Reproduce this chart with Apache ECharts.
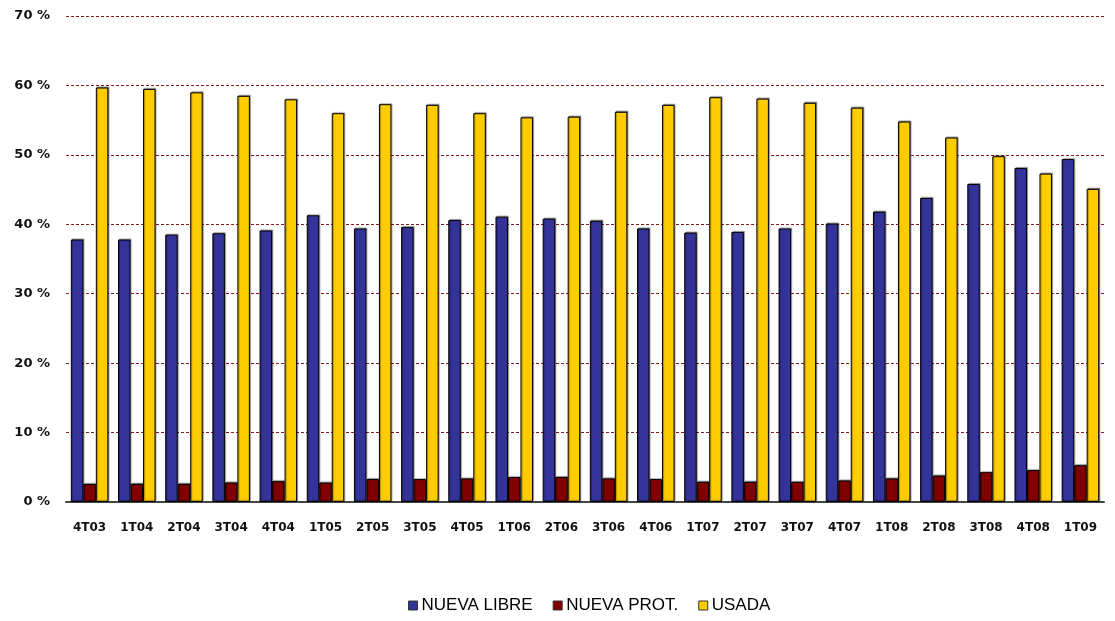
<!DOCTYPE html>
<html>
<head>
<meta charset="utf-8">
<script src="https://cdn.jsdelivr.net/npm/echarts@6/dist/echarts.min.js"></script>
<style>
  html, body { margin: 0; padding: 0; background: #fff; }
  #chart { width: 1115px; height: 621px; }
</style>
</head>
<body>
<div id="chart"></div>
<script>
var categories = ['4T03', '1T04', '2T04', '3T04', '4T04', '1T05', '2T05', '3T05', '4T05', '1T06', '2T06',
  '3T06', '4T06', '1T07', '2T07', '3T07', '4T07', '1T08', '2T08', '3T08', '4T08', '1T09']
var nuevaLibre = [37.8, 37.8, 38.5, 38.7, 39.1, 41.3, 39.4, 39.6, 40.6, 41.1, 40.8,
  40.5, 39.4, 38.8, 38.9, 39.4, 40.1, 41.8, 43.8, 45.8, 48.1, 49.4]
var nuevaProt = [2.6, 2.6, 2.6, 2.8, 3.0, 2.8, 3.3, 3.3, 3.4, 3.6, 3.6,
  3.4, 3.3, 2.9, 2.9, 2.9, 3.1, 3.4, 3.8, 4.3, 4.6, 5.3]
var usada = [59.7, 59.5, 59.0, 58.5, 58.0, 56.0, 57.3, 57.2, 56.0, 55.4, 55.5,
  56.2, 57.2, 58.3, 58.1, 57.5, 56.8, 54.8, 52.5, 49.8, 47.3, 45.1]

var chart = echarts.init(document.getElementById('chart'))

function barSeries(name, data, color) {
  return {
    name: name,
    type: 'bar',
    data: data,
    barWidth: 12.5,
    barGap: '0%',
    itemStyle: {
      color: color,
      borderColor: '#000',
      borderWidth: 1,
      shadowColor: 'rgba(0,0,0,0.35)',
      shadowOffsetX: 1,
      shadowOffsetY: -1,
      shadowBlur: 1
    }
  }
}

var option = {
  animation: false,
  backgroundColor: '#fff',
  textStyle: { fontFamily: 'DejaVu Sans' },
  grid: { left: 66, right: 11, top: 16, bottom: 119 },
  legend: {
    bottom: 2,
    left: 403,
    icon: 'rect',
    itemWidth: 9,
    itemHeight: 9,
    itemGap: 20,
    itemStyle: { borderColor: '#333', borderWidth: 1 },
    textStyle: { color: '#000', fontSize: 17, fontFamily: 'Liberation Sans', padding: [0, 0, 0, -1] },
    data: ['NUEVA LIBRE', 'NUEVA PROT.', 'USADA']
  },
  xAxis: {
    type: 'category',
    data: categories,
    axisLine: { lineStyle: { color: '#444', width: 2 } },
    axisTick: { show: false },
    axisLabel: {
      margin: 20,
      interval: 0,
      color: '#111',
      fontWeight: 'bold',
      fontSize: 12
    }
  },
  yAxis: {
    type: 'value',
    min: 0,
    max: 70,
    interval: 10,
    axisLine: { show: false },
    axisTick: { show: false },
    axisLabel: {
      margin: 16,
      color: '#111',
      fontWeight: 'bold',
      fontSize: 13,
      formatter: '{value} %'
    },
    splitLine: {
      lineStyle: { color: '#8b1a1a', type: [3, 2], width: 1 }
    }
  },
  series: [
    barSeries('NUEVA LIBRE', nuevaLibre, '#333399'),
    barSeries('NUEVA PROT.', nuevaProt, '#800000'),
    barSeries('USADA', usada, '#ffcc00')
  ]
}

chart.setOption(option)
</script>
</body>
</html>
